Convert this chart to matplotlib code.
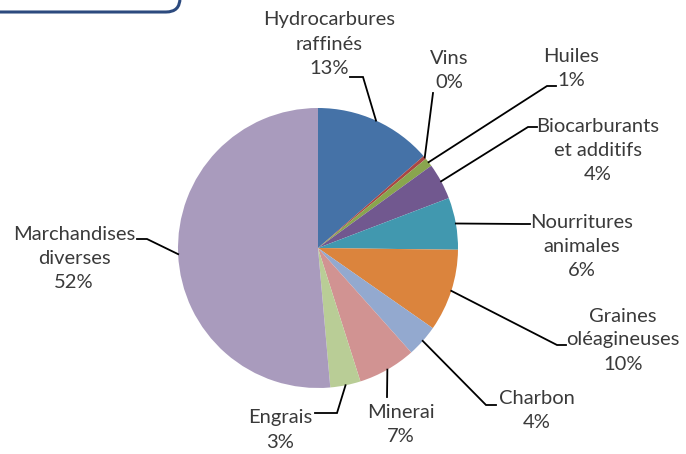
import numpy as np
import matplotlib.pyplot as plt
from matplotlib.patches import FancyBboxPatch

W, H = 686, 454

# data (shares in %)
categories = ["Hydrocarbures\nraffinés", "Vins", "Huiles", "Biocarburants\net additifs",
              "Nourritures\nanimales", "Graines\noléagineuses", "Charbon", "Minerai",
              "Engrais", "Marchandises\ndiverses"]
shares = [13.6, 0.4, 1.0, 4.2, 6.0, 9.5, 3.7, 6.7, 3.5, 51.4]
pct_labels = ["13%", "0%", "1%", "4%", "6%", "10%", "4%", "7%", "3%", "52%"]

colors = ["#4572A7", "#AA4643", "#89A54E", "#71588F", "#4198AF",
          "#DB843D", "#93A9CF", "#D19392", "#B9CD96", "#A99BBD"]

# label layout in pixel coords (y from top): text centre, elbow, end of leader
text_pos = [(329, 44), (449, 71), (571, 68), (598, 150), (582, 246),
            (623, 340), (537, 411), (401, 425), (280, 430), (74, 258)]
elbows = [(363, 77), (433, 93), (547, 86), (528, 127), (522, 224),
          (557, 345), (486, 405), (387, 397), (337, 413), (147, 239)]
ends = [(350, 77), (433, 93), (556, 86), (537, 127), (530, 224),
        (566, 345), (496, 405), (387, 397), (315, 413), (137, 239)]

cx, cy, r = 318, 248, 140


def fy(y):
    return H - y


fig = plt.figure(figsize=(W / 100, H / 100), dpi=100)
ax = fig.add_axes([0, 0, 1, 1])

wedges, _ = ax.pie(shares, colors=colors, startangle=90, counterclock=False,
                   center=(cx, fy(cy)), radius=r, frame=True,
                   wedgeprops=dict(linewidth=0))
ax.set_xlim(0, W)
ax.set_ylim(0, H)
ax.axis("off")

for w, name, pct, tp, el, en in zip(wedges, categories, pct_labels, text_pos, elbows, ends):
    ang = np.deg2rad((w.theta1 + w.theta2) / 2)
    sx = cx + r * np.cos(ang)
    sy = fy(cy) + r * np.sin(ang)
    ax.plot([sx, el[0], en[0]], [sy, fy(el[1]), fy(en[1])], color="black", lw=1.3,
            solid_joinstyle="miter")
    ax.text(tp[0], fy(tp[1]), name + "\n" + pct, ha="center", va="center",
            fontsize=14.5, family="Lato", color="#3a3a3a", linespacing=1.5)

# partial rounded box in the top-left corner
box = FancyBboxPatch((-30, fy(12)), 210, 80, boxstyle="round,pad=0,rounding_size=14",
                     facecolor="none", edgecolor="#2C4A7E", lw=2.2, clip_on=False)
ax.add_patch(box)

fig.savefig("out.png", dpi=100)
